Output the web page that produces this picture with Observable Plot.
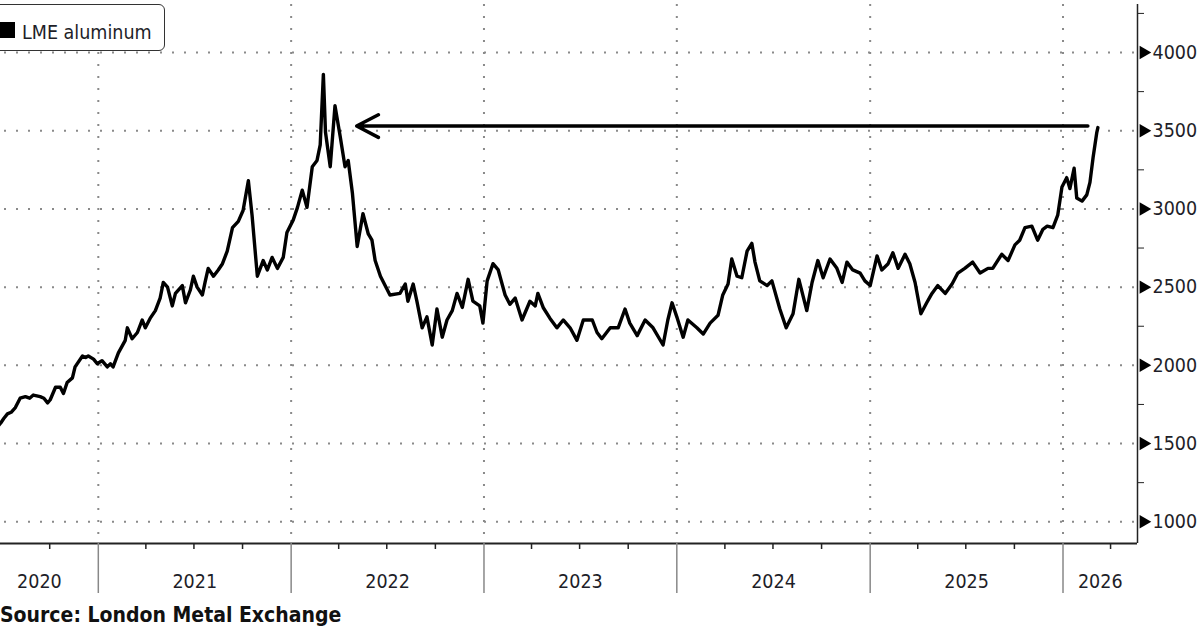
<!DOCTYPE html>
<html><head><meta charset="utf-8">
<script src="https://cdn.jsdelivr.net/npm/d3@7"></script>
<script src="https://cdn.jsdelivr.net/npm/@observablehq/plot@0.6"></script>
<style>
html,body{margin:0;padding:0;background:#fff;}
#wrap{position:relative;width:1200px;height:630px;overflow:hidden;font-family:'DejaVu Sans Condensed','DejaVu Sans',sans-serif;font-stretch:condensed;color:#1e1e28;}
#chart{position:absolute;left:-20px;top:0;}
#legend{position:absolute;left:-30px;top:4px;width:193px;height:45px;border:1.5px solid #333;border-radius:6px;background:#fff;}
#swatch{position:absolute;left:-1px;top:22px;width:16px;height:16px;background:#000;}
#legtext{position:absolute;left:22px;top:23px;font-size:19.5px;line-height:19.5px;white-space:nowrap;}
#source{position:absolute;left:0px;top:605px;font-size:21px;line-height:21px;font-weight:bold;white-space:nowrap;color:#111;}
</style></head>
<body><div id="wrap"><div id="chart"></div><div id="legend"></div><div id="swatch"></div><div id="legtext"></div><div id="source"></div></div>
<script>
const dates = ["2020-05-25","2020-06-12","2020-06-22","2020-06-30","2020-07-06","2020-07-13","2020-07-20","2020-07-28","2020-08-06","2020-08-16","2020-08-24","2020-08-31","2020-09-13","2020-09-20","2020-09-27","2020-10-02","2020-10-12","2020-10-21","2020-10-27","2020-11-03","2020-11-13","2020-11-18","2020-12-02","2020-12-08","2020-12-13","2020-12-23","2020-12-30",
"2021-01-08","2021-01-18","2021-01-24","2021-01-29","2021-02-08","2021-02-21","2021-02-25","2021-03-06","2021-03-16","2021-03-25","2021-03-31","2021-04-09","2021-04-19","2021-04-28","2021-05-04","2021-05-12","2021-05-21","2021-05-27","2021-06-09","2021-06-15","2021-06-24","2021-06-30","2021-07-07","2021-07-17","2021-07-22","2021-07-28","2021-08-07","2021-08-16","2021-08-24","2021-09-02","2021-09-12","2021-09-23","2021-10-02","2021-10-12","2021-10-19","2021-10-29","2021-11-09","2021-11-17","2021-11-26","2021-12-06","2021-12-17","2021-12-24",
"2022-01-05","2022-01-13","2022-01-22","2022-01-31","2022-02-10","2022-02-19","2022-02-25","2022-03-03","2022-03-07","2022-03-16","2022-03-25","2022-04-04","2022-04-13","2022-04-19","2022-04-27","2022-05-06","2022-05-17","2022-05-27","2022-06-03","2022-06-09","2022-06-19","2022-07-07","2022-07-26","2022-08-05","2022-08-10","2022-08-20","2022-08-27","2022-09-06","2022-09-15","2022-09-25","2022-10-04","2022-10-14","2022-10-23","2022-11-02","2022-11-11","2022-11-21","2022-12-02","2022-12-11","2022-12-24","2022-12-30",
"2023-01-07","2023-01-18","2023-01-28","2023-02-10","2023-02-19","2023-03-01","2023-03-14","2023-03-29","2023-04-08","2023-04-13","2023-04-23","2023-05-06","2023-05-19","2023-05-31","2023-06-13","2023-06-26","2023-07-08","2023-07-25","2023-08-03","2023-08-12","2023-08-28","2023-09-12","2023-09-25","2023-10-04","2023-10-18","2023-11-02","2023-11-17","2023-12-06","2023-12-15","2023-12-23",
"2024-01-01","2024-01-13","2024-01-22","2024-02-08","2024-02-20","2024-03-04","2024-03-19","2024-03-28","2024-04-07","2024-04-14","2024-04-24","2024-05-03","2024-05-13","2024-05-22","2024-05-28","2024-06-06","2024-06-20","2024-06-29","2024-07-14","2024-07-26","2024-08-08","2024-08-19","2024-09-03","2024-09-13","2024-09-24","2024-10-04","2024-10-17","2024-10-30","2024-11-09","2024-11-18","2024-11-29","2024-12-13","2024-12-22",
"2025-01-01","2025-01-14","2025-01-23","2025-02-04","2025-02-13","2025-02-23","2025-03-08","2025-03-17","2025-03-27","2025-04-07","2025-04-18","2025-04-28","2025-05-09","2025-05-23","2025-06-05","2025-06-16","2025-06-29","2025-07-14","2025-07-28","2025-08-12","2025-08-21","2025-09-07","2025-09-19","2025-10-02","2025-10-11","2025-10-21","2025-11-03","2025-11-14","2025-11-24","2025-12-02","2025-12-13","2025-12-22","2025-12-30",
"2026-01-08","2026-01-14","2026-01-22","2026-01-27","2026-02-06","2026-02-15","2026-02-21","2026-02-27","2026-03-06","2026-03-08"];
const prices = [1500,1580,1600,1630,1660,1690,1700,1730,1790,1800,1790,1810,1800,1790,1760,1780,1860,1860,1820,1890,1920,1990,2060,2050,2060,2040,2010,
2030,1990,2010,1990,2080,2160,2240,2170,2210,2290,2240,2300,2350,2430,2530,2500,2380,2460,2510,2400,2480,2570,2500,2450,2530,2620,2570,2610,2650,2730,2880,2920,2990,3180,2960,2570,2670,2610,2690,2620,2690,2850,
2930,3010,3120,3010,3270,3310,3410,3860,3490,3270,3660,3460,3270,3310,3100,2760,2970,2840,2800,2670,2570,2450,2460,2520,2410,2520,2410,2240,2310,2130,2360,2180,2290,2350,2460,2370,2550,2410,2380,2270,
2540,2650,2610,2450,2390,2430,2290,2410,2380,2460,2370,2300,2240,2290,2240,2160,2290,2290,2210,2170,2240,2240,2360,2270,2190,2290,2240,2130,2290,2400,
2310,2180,2290,2240,2200,2270,2320,2450,2520,2680,2570,2560,2730,2780,2660,2540,2510,2540,2360,2240,2330,2550,2350,2530,2670,2560,2680,2620,2530,2660,2610,2590,2540,
2510,2700,2610,2650,2720,2620,2710,2650,2530,2330,2400,2460,2510,2460,2520,2590,2620,2660,2590,2620,2620,2710,2670,2770,2800,2880,2890,2800,2870,2890,2880,2960,3140,
3200,3130,3260,3070,3050,3090,3170,3330,3490,3520];

const yTicks = [1000,1500,2000,2500,3000,3500,4000];
const yMinorTicks = [1250,1750,2250,2750,3250,3750,4250];
const yDomain = [861,4307];
const xDomain = ["2020-05-23","2026-05-22"];
const yearStarts = ["2021-01-01","2022-01-01","2023-01-01","2024-01-01","2025-01-01","2026-01-01"];
const yearLabels = ["2020","2021","2022","2023","2024","2025","2026"];
const quarterTicks = ["2020-10-01","2021-04-01","2021-07-01","2021-10-01","2022-04-01","2022-07-01","2022-10-01","2023-04-01","2023-07-01","2023-10-01","2024-04-01","2024-07-01","2024-10-01","2025-04-01","2025-07-01","2025-10-01","2026-04-01"];
const arrowFrom = {date:"2026-02-17", value:3530};
const arrowTo = {date:"2022-05-05", value:3530};
const legendLabel = "LME aluminum";
const sourceText = "Source: London Metal Exchange";

const P = d3.utcParse("%Y-%m-%d");
const series = dates.map((d,i)=>({date:P(d), value:prices[i]}));
const xd = xDomain.map(P);
const ys = yearStarts.map(P);
const bounds = [xd[0], ...ys, xd[1]];
const labelData = yearLabels.map((t,i)=>({text:t, date:new Date((bounds[i].getTime()+bounds[i+1].getTime())/2)}));

const grid = {stroke:"#8a8a8a", strokeWidth:2, strokeDasharray:"2,10"};

const chart = Plot.plot({
  width:1220, height:600,
  marginTop:4, marginBottom:57, marginLeft:0, marginRight:63,
  style:{fontFamily:"'DejaVu Sans Condensed','DejaVu Sans',sans-serif", fontSize:"19px", color:"#1e1e28", background:"#fff", overflow:"visible"},
  x:{type:"utc", domain:xd},
  y:{domain:yDomain},
  marks:[
    Plot.ruleY(yTicks, {y:d=>d, ...grid}),
    Plot.ruleX(ys, {x:d=>d, ...grid}),
    Plot.line(series, {x:"date", y:"value", stroke:"#000", strokeWidth:3.4, strokeLinejoin:"round"}),
    Plot.arrow([0], {x1:()=>P(arrowFrom.date), y1:()=>arrowFrom.value, x2:()=>P(arrowTo.date), y2:()=>arrowTo.value, stroke:"#000", strokeWidth:3.5, headLength:10.5, headAngle:55}),
    Plot.ruleX([xd[1]], {stroke:"#222", strokeWidth:1.5}),
    Plot.ruleY([yDomain[0]], {stroke:"#222", strokeWidth:2}),
    Plot.axisY(yMinorTicks, {anchor:"right", tickSize:6, tickFormat:()=>"", label:null, stroke:"#222"}),
    Plot.axisY(yTicks, {anchor:"right", tickSize:0, tickPadding:15, label:null, tickFormat:d=>String(d), fontSize:19.5}),
    Plot.dot(yTicks, {x:()=>xd[1], y:d=>d, symbol:"triangle", rotate:90, r:5, dx:6, fill:"#000", stroke:null}),
    Plot.axisX(quarterTicks.map(P), {tickSize:6, tickFormat:()=>"", label:null, stroke:"#222", strokeWidth:1.5}),
    Plot.axisX(ys, {tickSize:50, tickFormat:()=>"", label:null, stroke:"#888", strokeWidth:1.5}),
    Plot.text(labelData, {x:"date", y:()=>yDomain[0], text:"text", dy:38, fontSize:19.5, fill:"#1e1e28"})
  ]
});
document.getElementById("chart").appendChild(chart);
document.getElementById("legtext").textContent = legendLabel;
document.getElementById("source").textContent = sourceText;
</script></body></html>
